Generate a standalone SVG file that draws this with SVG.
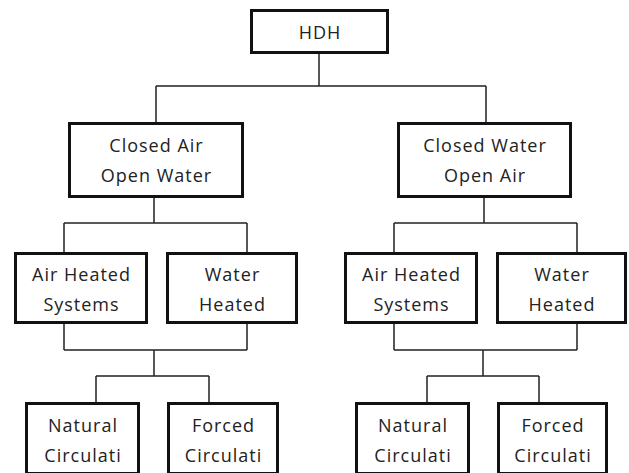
<svg xmlns="http://www.w3.org/2000/svg" width="629" height="473" viewBox="0 0 629 473">
<style>
.box{fill:#fff;stroke:#111;stroke-width:3}
.t{font-family:"Open Sans","Liberation Sans",sans-serif;font-size:18px;letter-spacing:1px;fill:#222;text-anchor:middle}
.c{fill:none;stroke:#222;stroke-width:1.5}
</style>
<rect width="629" height="473" fill="#fff"/>
<g id="connectors" class="c">
<path d="M319,54V86M156,86H486M156,86V122M486,86V122"/>
<path d="M154,198V223M64,223H247M64,223V252M247,223V252"/>
<path d="M484,198V223M394,223H577M394,223V252M577,223V252"/>
<path d="M64,324V350M247,324V350M64,350H247M154,350V376M96,376H209M96,376V402M209,376V402"/>
<path d="M394,324V350M577,324V350M394,350H577M483,350V376M427,376H539M427,376V402M539,376V402"/>
</g>
<g id="hdh"><rect class="box" x="251.5" y="10.5" width="136" height="42"/><text class="t" x="320" y="39">HDH</text></g>
<g id="closed-air"><rect class="box" x="69.5" y="123.5" width="173" height="73"/><text class="t" x="156.5" y="152">Closed Air</text><text class="t" x="156.5" y="182">Open Water</text></g>
<g id="closed-water"><rect class="box" x="398.5" y="123.5" width="172" height="73"/><text class="t" x="485" y="152">Closed Water</text><text class="t" x="485" y="182">Open Air</text></g>
<g id="air-heated-1"><rect class="box" x="15.5" y="253.5" width="131" height="69"/><text class="t" x="81.5" y="281">Air Heated</text><text class="t" x="81.5" y="311">Systems</text></g>
<g id="water-heated-1"><rect class="box" x="167.5" y="253.5" width="129" height="69"/><text class="t" x="232.5" y="281">Water</text><text class="t" x="232.5" y="311">Heated</text></g>
<g id="air-heated-2"><rect class="box" x="345.5" y="253.5" width="131" height="69"/><text class="t" x="411.5" y="281">Air Heated</text><text class="t" x="411.5" y="311">Systems</text></g>
<g id="water-heated-2"><rect class="box" x="497.5" y="253.5" width="128" height="69"/><text class="t" x="562" y="281">Water</text><text class="t" x="562" y="311">Heated</text></g>
<g id="natural-1"><rect class="box" x="26.5" y="403.5" width="112" height="70"/><text class="t" x="83" y="432">Natural</text><text class="t" x="83" y="462">Circulati</text></g>
<g id="forced-1"><rect class="box" x="168.5" y="403.5" width="109" height="70"/><text class="t" x="223.5" y="432">Forced</text><text class="t" x="223.5" y="462">Circulati</text></g>
<g id="natural-2"><rect class="box" x="356.5" y="403.5" width="112" height="70"/><text class="t" x="413" y="432">Natural</text><text class="t" x="413" y="462">Circulati</text></g>
<g id="forced-2"><rect class="box" x="498.5" y="403.5" width="108" height="70"/><text class="t" x="553" y="432">Forced</text><text class="t" x="553" y="462">Circulati</text></g>
</svg>
